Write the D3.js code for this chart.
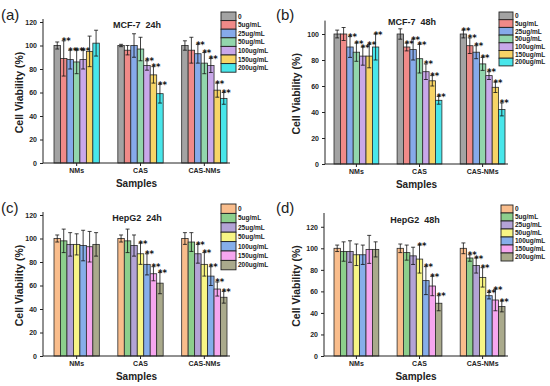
<!DOCTYPE html>
<html>
<head>
<meta charset="utf-8">
<script src="https://cdn.jsdelivr.net/npm/d3@7"></script>
<style>
  body { margin: 0; background: #fff; }
  svg { display: block; font-family: Arial, "Liberation Sans", sans-serif; }
</style>
</head>
<body>
<svg id="chart" width="550" height="386"></svg>
<script>
const samples = ["NMs", "CAS", "CAS-NMs"];
const doses = ["0", "5ug/mL", "25ug/mL", "50ug/mL", "100ug/mL", "150ug/mL", "200ug/mL"];

const mcfColors = ["#a3a3a3", "#f08a88", "#86aaea", "#92d6ac", "#c9a8ea", "#f7d466", "#48e6ea"];
const hepColors = ["#f9bd8c", "#8ccf8c", "#b3a3d6", "#f7f585", "#86aeea", "#f6a6ef", "#aaaa8c"];

// means and errors per sample (rows) and dose (columns)
const mcf24Mean = [[100, 89, 88, 86, 88, 95, 102], [100, 96, 100, 97, 83, 75, 59], [100, 96, 93, 85, 83, 62, 55]];
const mcf24Err  = [[3, 15, 8, 10, 8, 13, 11], [1, 4, 10, 10, 4, 7, 8], [4, 11, 8, 9, 6, 6, 5]];
const mcf24Sig  = [[0, 1, 1, 1, 1, 0, 0], [0, 0, 0, 0, 1, 1, 1], [0, 0, 1, 1, 1, 1, 1]];

const mcf48Mean = [[100, 100, 90, 86, 83, 83, 90], [100, 90, 88, 81, 71, 64, 49], [100, 91, 86, 77, 68, 59, 42]];
const mcf48Err  = [[3, 5, 8, 7, 7, 9, 10], [4, 3, 8, 11, 6, 4, 3], [3, 6, 5, 5, 3, 4, 5]];
const mcf48Sig  = [[0, 0, 1, 1, 1, 1, 1], [0, 1, 1, 1, 1, 1, 1], [1, 1, 1, 1, 1, 1, 1]];

const hep24Mean = [[100, 98, 95, 95, 94, 93, 95], [100, 98, 94, 87, 78, 70, 62], [100, 97, 87, 78, 68, 57, 50]];
const hep24Err  = [[3, 10, 10, 9, 13, 13, 10], [3, 10, 9, 9, 9, 6, 9], [5, 8, 8, 10, 8, 6, 5]];
const hep24Sig  = [[0, 0, 0, 0, 0, 0, 0], [0, 0, 0, 1, 1, 1, 1], [0, 0, 1, 1, 1, 1, 1]];

const hep48Mean = [[100, 97, 97, 94, 94, 99, 99], [100, 96, 93, 90, 70, 65, 49], [100, 91, 84, 73, 56, 52, 46]];
const hep48Err  = [[3, 9, 10, 10, 9, 13, 7], [4, 7, 8, 13, 13, 9, 7], [5, 3, 7, 9, 3, 10, 5]];
const hep48Sig  = [[0, 0, 0, 0, 0, 0, 0], [0, 0, 0, 1, 1, 1, 1], [0, 1, 1, 1, 1, 1, 1]];

const yTicks120 = [0, 20, 40, 60, 80, 100, 120];
const yTicks100 = [0, 20, 40, 60, 80, 100];

const svg = d3.select("#chart");

const panels = [
  { tag: "(a)", title: "MCF-7  24h", mean: mcf24Mean, err: mcf24Err, sig: mcf24Sig, colors: mcfColors,
    ox: 0, oy: 0, left: 43, right: 230, barL: 54, barR: 227, y0: 163, yTop: 22, dom: 120, ticks: yTicks120,
    legX: 221, legY: 12, legRow: 8.6, legW: 15, titleX: 137, titleY: 28, tagY: 20, ylabX: 23 },
  { tag: "(b)", title: "MCF-7  48h", mean: mcf48Mean, err: mcf48Err, sig: mcf48Sig, colors: mcfColors,
    ox: 275, oy: 0, left: 50, right: 233, barL: 59, barR: 230, y0: 164, yTop: 23.6, dom: 108, ticks: yTicks100,
    legX: 224, legY: 12, legRow: 7.7, legW: 14, titleX: 137, titleY: 25, tagY: 20, ylabX: 25 },
  { tag: "(c)", title: "HepG2  24h", mean: hep24Mean, err: hep24Err, sig: hep24Sig, colors: hepColors,
    ox: 0, oy: 193, left: 43, right: 230, barL: 54, barR: 227, y0: 163, yTop: 22, dom: 120, ticks: yTicks120,
    legX: 221, legY: 11, legRow: 9.4, legW: 15, titleX: 137, titleY: 28, tagY: 20, ylabX: 23 },
  { tag: "(d)", title: "HepG2  48h", mean: hep48Mean, err: hep48Err, sig: hep48Sig, colors: hepColors,
    ox: 275, oy: 193, left: 49, right: 233, barL: 59, barR: 230, y0: 163, yTop: 23, dom: 130, ticks: yTicks120,
    legX: 226, legY: 12, legRow: 8, legW: 12, titleX: 140, titleY: 30, tagY: 20, ylabX: 25 }
];

panels.forEach(p => {
  const g = svg.append("g").attr("transform", `translate(${p.ox},${p.oy})`);

  const x = d3.scaleBand().domain(samples).range([p.barL, p.barR]).paddingInner(0.29).paddingOuter(0);
  const xi = d3.scaleBand().domain(doses).range([0, x.bandwidth()]);
  const y = d3.scaleLinear().domain([0, p.dom]).range([p.y0, p.yTop]);

  // bars
  samples.forEach((s, si) => {
    const grp = g.append("g").attr("transform", `translate(${x(s)},0)`);
    doses.forEach((d, di) => {
      const m = p.mean[si][di], e = p.err[si][di];
      const bx = xi(d), bw = xi.bandwidth();
      grp.append("rect")
        .attr("x", bx).attr("y", y(m))
        .attr("width", bw).attr("height", p.y0 - y(m))
        .attr("fill", p.colors[di])
        .attr("stroke", "#2a2a2a").attr("stroke-width", 0.8);
      const cx = bx + bw / 2;
      grp.append("line").attr("x1", cx).attr("x2", cx).attr("y1", y(m - e)).attr("y2", y(m + e))
        .attr("stroke", "#111").attr("stroke-width", 0.8);
      [m - e, m + e].forEach(v => {
        grp.append("line").attr("x1", cx - 2).attr("x2", cx + 2).attr("y1", y(v)).attr("y2", y(v))
          .attr("stroke", "#111").attr("stroke-width", 0.8);
      });
      if (p.sig[si][di]) {
        grp.append("text").attr("x", cx + 2.5).attr("y", y(m + e) + 3.5)
          .attr("text-anchor", "middle").attr("font-size", 8.5).attr("font-weight", "bold")
          .attr("font-family", "'DejaVu Sans', sans-serif")
          .attr("fill", "#111").text("**");
      }
    });
  });

  // axes
  const yAxis = d3.axisLeft(y).tickValues(p.ticks).tickSize(3).tickPadding(3);
  const ya = g.append("g").attr("transform", `translate(${p.left},0)`).call(yAxis);
  ya.select(".domain").attr("d", `M-0,${p.y0}V${p.yTop - 3}`);
  const xa = g.append("g").attr("transform", `translate(0,${p.y0})`)
    .call(d3.axisBottom(x).tickSize(3).tickPadding(2));
  xa.select(".domain").attr("d", `M${p.left},0H${p.right}`);
  [ya, xa].forEach(a => {
    a.selectAll("text").attr("font-size", 7).attr("font-weight", "bold").attr("fill", "#222")
      .attr("font-family", "Arial, 'Liberation Sans', sans-serif");
    a.selectAll("line, path").attr("stroke", "#222").attr("stroke-width", 1);
  });

  // labels
  g.append("text").attr("x", p.ylabX).attr("y", (p.y0 + p.yTop) / 2)
    .attr("transform", `rotate(-90,${p.ylabX},${(p.y0 + p.yTop) / 2})`)
    .attr("text-anchor", "middle").attr("font-size", 10.5).attr("font-weight", "bold").attr("fill", "#222")
    .text("Cell Viability (%)");
  g.append("text").attr("x", (p.left + p.right) / 2).attr("y", p.y0 + 24)
    .attr("text-anchor", "middle").attr("font-size", 10).attr("font-weight", "bold").attr("fill", "#222")
    .text("Samples");
  g.append("text").attr("x", p.titleX).attr("y", p.titleY)
    .attr("text-anchor", "middle").attr("font-size", 9).attr("font-weight", "bold").attr("fill", "#222")
    .attr("xml:space", "preserve").style("white-space", "pre").text(p.title);
  g.append("text").attr("x", 1).attr("y", p.tagY)
    .attr("font-size", 15).attr("fill", "#222").text(p.tag);

  // legend
  const leg = g.append("g").attr("transform", `translate(${p.legX},${p.legY})`);
  doses.forEach((d, di) => {
    leg.append("rect").attr("x", 0).attr("y", di * p.legRow)
      .attr("width", p.legW).attr("height", p.legRow)
      .attr("fill", p.colors[di]).attr("stroke", "#222").attr("stroke-width", 0.9);
    leg.append("text").attr("x", p.legW + 2).attr("y", di * p.legRow + p.legRow / 2 + 2.3)
      .attr("font-size", 6.5).attr("font-weight", "bold").attr("fill", "#222").text(d);
  });
});
</script>
</body>
</html>
